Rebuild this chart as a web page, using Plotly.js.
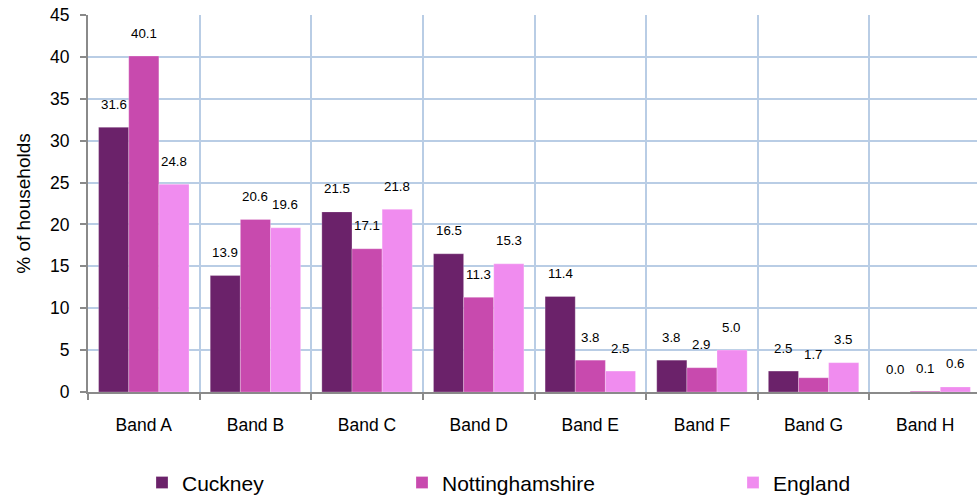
<!DOCTYPE html>
<html>
<head>
<meta charset="utf-8">
<script src="https://cdn.plot.ly/plotly-3.0.1.min.js"></script>
<style>
html,body{margin:0;padding:0;overflow:hidden;background:#fff;}
#chart{width:981px;height:496px;}
</style>
</head>
<body>
<div id="chart"></div>
<script>
const categories = ["Band A","Band B","Band C","Band D","Band E","Band F","Band G","Band H"];
const seriesNames = ["Cuckney","Nottinghamshire","England"];
const cuckney = [31.6,13.9,21.5,16.5,11.4,3.8,2.5,0.0];
const nottinghamshire = [40.1,20.6,17.1,11.3,3.8,2.9,1.7,0.1];
const england = [24.8,19.6,21.8,15.3,2.5,5.0,3.5,0.6];
const yTicks = [0,5,10,15,20,25,30,35,40,45];

const colors = ["#6b226a","#c84aae","#f08cef"];
const values = [cuckney, nottinghamshire, england];
const legendIds = ["legend","legend2","legend3"];

const traces = values.map((v,i)=>({
  type:"bar",
  name:seriesNames[i],
  x:categories,
  y:v,
  marker:{color:colors[i], line:{color:"rgba(255,255,255,0.5)", width:0.5}},
  legend:legendIds[i],
  hoverinfo:"none"
}));

// data labels via annotations, offset per series
const barW = 30; // px width of each bar
const annotations = [];
values.forEach((v,i)=>{
  v.forEach((val,j)=>{
    annotations.push({
      x:categories[j], y:val, xref:"x", yref:"y",
      text:val.toFixed(1), showarrow:false,
      xshift:(i-1)*barW, yshift:23,
      yanchor:"middle",
      font:{family:"Liberation Sans, Arial, sans-serif", size:13.3, color:"#000"}
    });
  });
});

const legendFont = {family:"Liberation Sans, Arial, sans-serif", size:21, color:"#000"};
const legendBase = {orientation:"h", xanchor:"left", yanchor:"middle", y:-0.241, font:legendFont, bgcolor:"rgba(0,0,0,0)", borderwidth:0, itemclick:false};

const layout = {
  width:981, height:496,
  margin:{l:88, r:0, t:15, b:104, autoexpand:false},
  paper_bgcolor:"#fff", plot_bgcolor:"#fff",
  font:{family:"Liberation Sans, Arial, sans-serif", color:"#000"},
  barmode:"group",
  bargap:0.19,
  bargroupgap:0,
  showlegend:true,
  legend:Object.assign({}, legendBase, {x:(142-88)/893}),
  legend2:Object.assign({}, legendBase, {x:(402-88)/893}),
  legend3:Object.assign({}, legendBase, {x:(733-88)/893}),
  xaxis:{
    type:"category",
    automargin:false,
    tickson:"boundaries",
    showgrid:true, gridcolor:"#b9cde5", gridwidth:2,
    showline:true, linecolor:"#8a8a8a", linewidth:2,
    ticks:"outside", ticklen:6, tickcolor:"#8a8a8a", tickwidth:2,
    ticklabelstandoff:16,
    tickfont:{size:17.5, color:"#000"},
    range:[-0.5,7.5],
    fixedrange:true
  },
  yaxis:{
    automargin:false,
    range:[0,45],
    tickvals:yTicks,
    ticktext:yTicks.map(String),
    showgrid:true, gridcolor:"#b9cde5", gridwidth:2,
    showline:true, linecolor:"#8a8a8a", linewidth:2,
    ticks:"outside", ticklen:6, tickcolor:"#8a8a8a", tickwidth:2,
    tickfont:{size:17.5, color:"#000"},
    ticklabelstandoff:7,
    zeroline:false,
    title:{text:"% of households", font:{size:19, color:"#000"}, standoff:14},
    fixedrange:true
  },
  annotations:annotations
};

Plotly.newPlot("chart", traces, layout, {displayModeBar:false, staticPlot:true});
</script>
</body>
</html>
